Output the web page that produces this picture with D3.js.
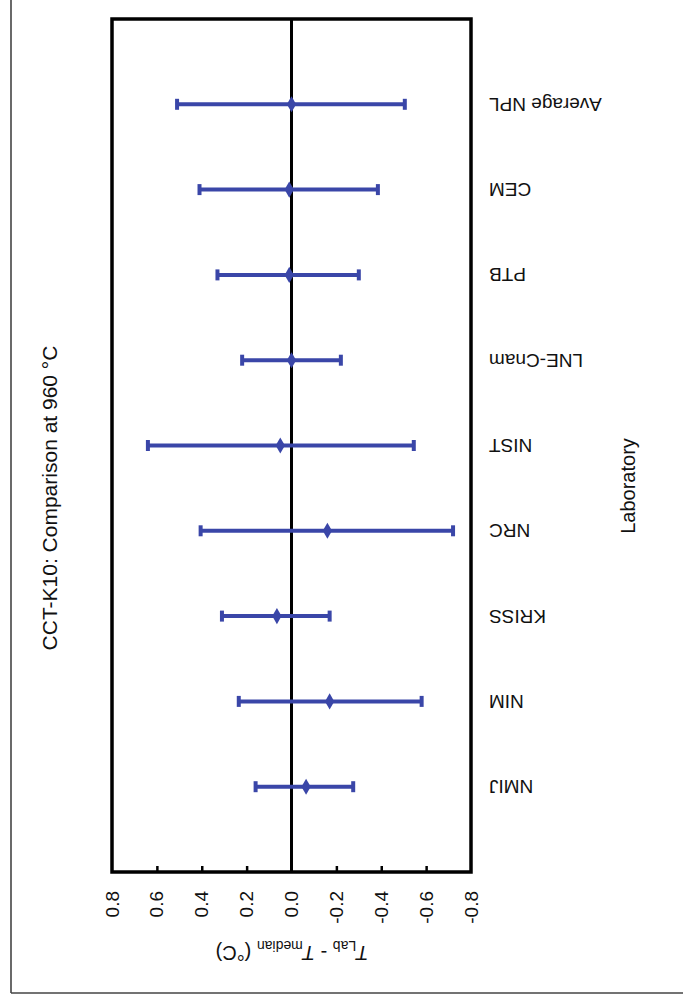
<!DOCTYPE html>
<html>
<head>
<meta charset="utf-8">
<script src="https://cdn.jsdelivr.net/npm/d3@7"></script>
<style>
  html, body { margin: 0; padding: 0; background: #fff; }
  svg { display: block; font-family: "Liberation Sans", Arial, sans-serif; }
</style>
</head>
<body>
<svg id="chart" width="683" height="1001"></svg>
<script>
// Laboratories, bottom to top
const labs = ["NMIJ", "NIM", "KRISS", "NRC", "NIST", "LNE-Cnam", "PTB", "CEM", "Average NPL"];
// T_Lab - T_median (°C)
const diffs = [-0.065, -0.17, 0.065, -0.16, 0.05, 0.0, 0.01, 0.01, 0.0];
// Error bar extents (°C)
const upperEnds = [0.16, 0.235, 0.31, 0.405, 0.64, 0.22, 0.33, 0.41, 0.51];
const lowerEnds = [-0.275, -0.58, -0.17, -0.72, -0.545, -0.22, -0.30, -0.385, -0.505];
// Value axis ticks
const tickValues = [0.8, 0.6, 0.4, 0.2, 0.0, -0.2, -0.4, -0.6, -0.8];

const rows = labs.map((lab, i) => ({ lab, d: diffs[i], hi: upperEnds[i], lo: lowerEnds[i] }));

const svg = d3.select("#chart");
const blue = "#3a46a8";

const frame = { left: 112, right: 471, top: 19, bottom: 872 };

const x = d3.scaleLinear().domain([0.8, -0.8]).range([frame.left, frame.right]);
const y = d3.scalePoint().domain(labs).range([frame.bottom, frame.top]).padding(1);

// outer border (left and bottom edges)
svg.append("line").attr("x1", 11).attr("x2", 11).attr("y1", 0).attr("y2", 993)
  .attr("stroke", "#444").attr("stroke-width", 1.6);
svg.append("line").attr("x1", 11).attr("x2", 683).attr("y1", 993).attr("y2", 993)
  .attr("stroke", "#444").attr("stroke-width", 1.6);

// inner ticks on the value axis
const axis = d3.axisBottom(x)
  .tickValues(tickValues.filter(v => Math.abs(v) > 1e-9 && Math.abs(v) < 0.79))
  .tickSizeInner(-6).tickSizeOuter(0).tickFormat("");
const gAxis = svg.append("g").attr("transform", `translate(0,${frame.bottom})`).call(axis);
gAxis.select(".domain").remove();
gAxis.selectAll(".tick line").attr("stroke", "#000").attr("stroke-width", 2.5);

// tick labels, rotated
svg.append("g").selectAll("text").data(tickValues).join("text")
  .attr("transform", d => `translate(${x(d)},891) rotate(-90)`)
  .attr("text-anchor", "end")
  .attr("dominant-baseline", "central")
  .attr("font-size", 19)
  .attr("fill", "#111")
  .text(d => d3.format(".1f")(d).replace("−", "-"));

// zero line
svg.append("line")
  .attr("x1", x(0)).attr("x2", x(0))
  .attr("y1", frame.top).attr("y2", frame.bottom)
  .attr("stroke", "#000").attr("stroke-width", 3);

// plot frame
svg.append("rect")
  .attr("x", frame.left).attr("y", frame.top)
  .attr("width", frame.right - frame.left).attr("height", frame.bottom - frame.top)
  .attr("fill", "none").attr("stroke", "#000").attr("stroke-width", 3.5);

// error bars
const bars = svg.append("g").selectAll("g").data(rows).join("g");
bars.append("line")
  .attr("x1", d => x(d.hi)).attr("x2", d => x(d.lo))
  .attr("y1", d => y(d.lab)).attr("y2", d => y(d.lab))
  .attr("stroke", blue).attr("stroke-width", 4);
bars.selectAll(".cap").data(d => [d.hi, d.lo].map(v => ({ v, lab: d.lab }))).join("line")
  .attr("class", "cap")
  .attr("x1", c => x(c.v)).attr("x2", c => x(c.v))
  .attr("y1", c => y(c.lab) - 5.5).attr("y2", c => y(c.lab) + 5.5)
  .attr("stroke", blue).attr("stroke-width", 4);
bars.append("path")
  .attr("d", d3.symbol(d3.symbolDiamond, 75))
  .attr("transform", d => `translate(${x(d.d)},${y(d.lab)})`)
  .attr("fill", blue);

// laboratory labels, upside down
svg.append("g").selectAll("text").data(labs).join("text")
  .attr("transform", d => `translate(489,${y(d)}) rotate(180)`)
  .attr("text-anchor", "end")
  .attr("dominant-baseline", "central")
  .attr("font-size", 19)
  .attr("fill", "#111")
  .text(d => d);

// chart title
svg.append("text")
  .attr("transform", "translate(49,498) rotate(-90)")
  .attr("text-anchor", "middle")
  .attr("dominant-baseline", "central")
  .attr("font-size", 21)
  .attr("fill", "#111")
  .text("CCT-K10: Comparison at 960 °C");

// category axis title
svg.append("text")
  .attr("transform", "translate(628,486) rotate(-90)")
  .attr("text-anchor", "middle")
  .attr("dominant-baseline", "central")
  .attr("font-size", 20)
  .attr("fill", "#111")
  .text("Laboratory");

// value axis title, upside down
const vt = svg.append("text")
  .attr("transform", "translate(292,946) rotate(180)")
  .attr("text-anchor", "middle")
  .attr("font-size", 20)
  .attr("fill", "#111");
vt.append("tspan").attr("font-style", "italic").text("T");
vt.append("tspan").attr("font-size", 14).attr("dy", 5).text("Lab");
vt.append("tspan").attr("dy", -5).text(" - ");
vt.append("tspan").attr("font-style", "italic").text("T");
vt.append("tspan").attr("font-size", 14).attr("dy", 5).text("median");
vt.append("tspan").attr("dy", -5).text(" (°C)");
</script>
</body>
</html>
